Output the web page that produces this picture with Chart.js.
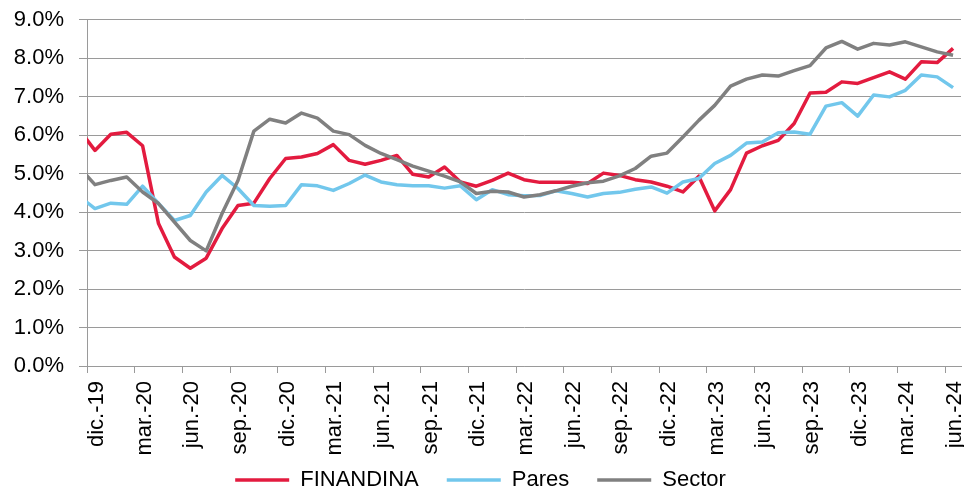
<!DOCTYPE html>
<html>
<head>
<meta charset="utf-8">
<script src="https://cdn.jsdelivr.net/npm/chart.js@4"></script>
<style>
  html, body { margin: 0; padding: 0; background: #fff; }
  #wrap { width: 964px; height: 494px; }
</style>
</head>
<body>
<div id="wrap"><canvas id="grafico" width="964" height="494"></canvas></div>
<script>
// meses (el primero, nov.-19, queda recortado por el borde izquierdo)
var meses = ["nov.-19",
  "dic.-19", "ene.-20", "feb.-20", "mar.-20", "abr.-20", "may.-20", "jun.-20", "jul.-20", "ago.-20", "sep.-20", "oct.-20", "nov.-20",
  "dic.-20", "ene.-21", "feb.-21", "mar.-21", "abr.-21", "may.-21", "jun.-21", "jul.-21", "ago.-21", "sep.-21", "oct.-21", "nov.-21",
  "dic.-21", "ene.-22", "feb.-22", "mar.-22", "abr.-22", "may.-22", "jun.-22", "jul.-22", "ago.-22", "sep.-22", "oct.-22", "nov.-22",
  "dic.-22", "ene.-23", "feb.-23", "mar.-23", "abr.-23", "may.-23", "jun.-23", "jul.-23", "ago.-23", "sep.-23", "oct.-23", "nov.-23",
  "dic.-23", "ene.-24", "feb.-24", "mar.-24", "abr.-24", "may.-24", "jun.-24"];

var finandina = [6.14,
  5.60, 6.02, 6.07, 5.72, 3.70, 2.83, 2.54, 2.80, 3.57, 4.17, 4.23, 4.87,
  5.39, 5.43, 5.52, 5.75, 5.34, 5.24, 5.34, 5.47, 4.98, 4.91, 5.17, 4.78,
  4.67, 4.82, 5.01, 4.84, 4.77, 4.77, 4.77, 4.74, 5.01, 4.95, 4.84, 4.78,
  4.67, 4.52, 4.93, 4.03, 4.58, 5.53, 5.72, 5.86, 6.30, 7.09, 7.11, 7.38,
  7.34, 7.49, 7.64, 7.45, 7.90, 7.88, 8.25];

var pares = [4.41,
  4.09, 4.23, 4.20, 4.67, 4.22, 3.78, 3.91, 4.52, 4.95, 4.61, 4.17, 4.15,
  4.17, 4.71, 4.68, 4.56, 4.74, 4.96, 4.78, 4.71, 4.68, 4.68, 4.62, 4.68,
  4.32, 4.58, 4.45, 4.42, 4.43, 4.55, 4.48, 4.39, 4.48, 4.51, 4.59, 4.65,
  4.49, 4.78, 4.87, 5.26, 5.47, 5.79, 5.82, 6.06, 6.08, 6.02, 6.75, 6.84,
  6.49, 7.04, 6.99, 7.16, 7.56, 7.51, 7.23];

var sector = [5.17,
  4.71, 4.82, 4.91, 4.52, 4.22, 3.74, 3.26, 2.99, 3.96, 4.82, 6.10, 6.41,
  6.31, 6.57, 6.44, 6.10, 6.01, 5.73, 5.52, 5.36, 5.19, 5.06, 4.93, 4.78,
  4.48, 4.54, 4.52, 4.39, 4.45, 4.55, 4.67, 4.76, 4.80, 4.94, 5.13, 5.45,
  5.53, 5.95, 6.38, 6.77, 7.27, 7.45, 7.56, 7.53, 7.67, 7.80, 8.26, 8.43,
  8.23, 8.38, 8.34, 8.42, 8.29, 8.16, 8.07];

var yTicks = [0, 1, 2, 3, 4, 5, 6, 7, 8, 9];

var gris = "#9a9a9a";
var fuente = { family: "'Liberation Sans', Arial, sans-serif", size: 22 };

function puntos(valores) {
  // x = posición del mes, dic.-19 = 0
  return valores.map(function (v, i) { return { x: i - 1, y: v }; });
}

function serie(nombre, valores, color, orden) {
  return {
    label: nombre,
    data: puntos(valores),
    borderColor: color,
    backgroundColor: color,
    borderWidth: 3.5,
    pointRadius: 0,
    tension: 0,
    borderJoinStyle: "round",
    order: orden,
    clip: { left: 0, right: 6, top: 6, bottom: 6 }
  };
}

// las etiquetas giradas del eje x se solapan con la zona de la leyenda,
// así que no se recortan al borde inferior del eje
var sinRecorte = {
  id: "sinRecorte",
  afterLayout: function (chart) { chart.scales.x.bottom = chart.height; }
};

var ctx = document.getElementById("grafico").getContext("2d");

new Chart(ctx, {
  type: "line",
  data: {
    datasets: [
      serie("FINANDINA", finandina, "#E31B3F", 2),
      serie("Pares", pares, "#72C7EC", 1),
      serie("Sector", sector, "#808080", 0)
    ]
  },
  plugins: [sinRecorte],
  options: {
    responsive: false,
    animation: false,
    events: [],
    layout: { padding: { top: 19.5, right: 3, left: 0, bottom: -7 } },
    scales: {
      x: {
        type: "linear",
        min: -0.5,
        max: 54.5,
        afterBuildTicks: function (axis) {
          var t = [];
          for (var k = 1; k < meses.length; k += 3) t.push({ value: k - 1.5 });
          axis.ticks = t;
        },
        afterFit: function (axis) {
          axis.height = 75;
          axis.paddingLeft = 0;
          axis.paddingRight = 0;
        },
        grid: { drawOnChartArea: false, drawTicks: true, tickLength: 7, color: gris, lineWidth: 1 },
        border: { display: true, color: gris, width: 1 },
        ticks: {
          autoSkip: false,
          maxRotation: 90,
          minRotation: 90,
          padding: 8,
          labelOffset: 10,
          color: "#000",
          font: fuente,
          callback: function (v) { return meses[Math.round(v + 1.5)]; }
        }
      },
      y: {
        min: 0,
        max: 9,
        afterBuildTicks: function (axis) {
          axis.ticks = yTicks.map(function (v) { return { value: v }; });
        },
        afterFit: function (axis) {
          axis.width = 87;
          axis.paddingTop = 0;
          axis.paddingBottom = 0;
        },
        grid: { color: gris, lineWidth: 1, drawTicks: true, tickLength: 8 },
        border: { display: true, color: gris, width: 1 },
        ticks: {
          padding: 15,
          color: "#000",
          font: fuente,
          callback: function (v) { return v.toFixed(1) + "%"; }
        }
      }
    },
    plugins: {
      legend: {
        display: true,
        position: "bottom",
        labels: {
          usePointStyle: true,
          pointStyle: "line",
          pointStyleWidth: 54,
          padding: 28,
          color: "#000",
          font: fuente,
          sort: function (a, b) { return a.datasetIndex - b.datasetIndex; }
        }
      },
      tooltip: { enabled: false }
    }
  }
});
</script>
</body>
</html>
